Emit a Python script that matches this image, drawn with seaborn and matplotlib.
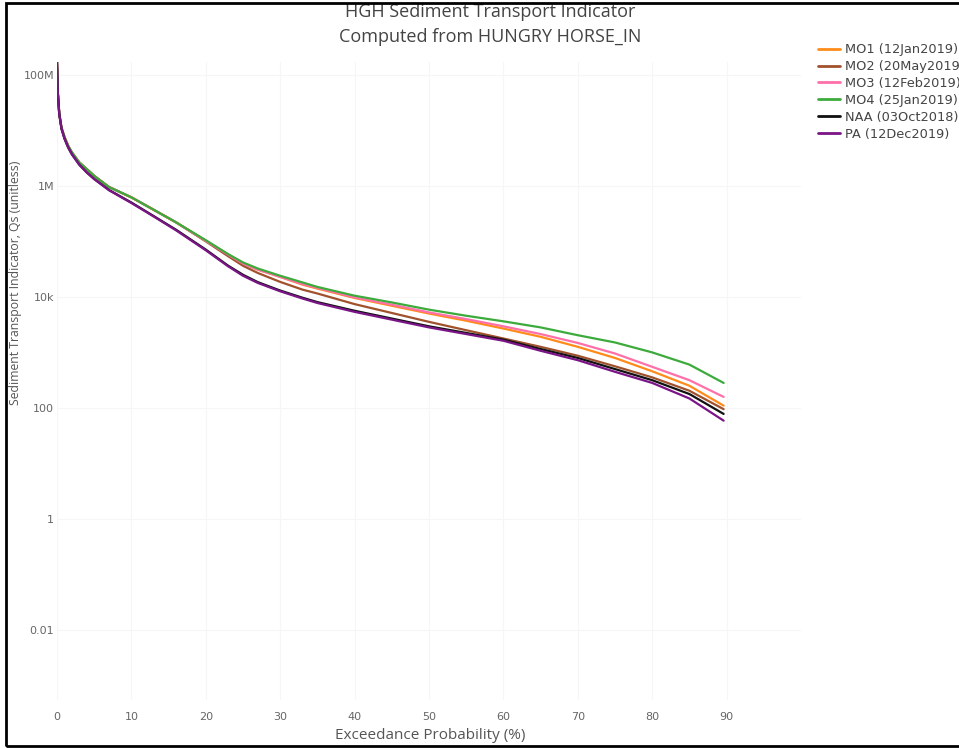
import pandas as pd
import seaborn as sns
import matplotlib.pyplot as plt
from matplotlib.patches import Rectangle
from matplotlib.lines import Line2D

# --- data (exceedance % vs Qs) ---
exceedance = [0, 0.1, 0.3, 0.6, 1, 1.5, 2, 3, 4, 5, 7, 10, 13, 16, 20, 23, 25, 27,
              30, 33, 35, 40, 45, 50, 55, 60, 65, 70, 75, 80, 85, 89.6]

mo1 = [1.7e8, 5.0e7, 2.0e7, 1.12e7, 7.6e6, 5.25e6, 4.0e6, 2.63e6, 2.0e6, 1.51e6,
       9.5e5, 6.2e5, 3.7e5, 2.2e5, 1.02e5, 5.75e4, 3.98e4, 3.09e4, 2.29e4, 1.66e4,
       1.41e4, 9550, 6920, 5010, 3720, 2690, 1910, 1260, 794, 457, 251, 110]
mo2 = [1.7e8, 5.0e7, 2.0e7, 1.12e7, 7.6e6, 5.25e6, 4.0e6, 2.63e6, 2.0e6, 1.51e6,
       9.5e5, 6.2e5, 3.7e5, 2.2e5, 1.0e5, 5.4e4, 3.63e4, 2.69e4, 1.86e4, 1.35e4,
       1.15e4, 7410, 5130, 3550, 2510, 1780, 1260, 871, 562, 355, 204, 95]
mo3 = [1.7e8, 5.0e7, 2.0e7, 1.12e7, 7.6e6, 5.25e6, 4.0e6, 2.63e6, 2.0e6, 1.51e6,
       9.5e5, 6.2e5, 3.7e5, 2.2e5, 1.02e5, 5.75e4, 3.98e4, 3.09e4, 2.29e4, 1.7e4,
       1.45e4, 9770, 7240, 5250, 3980, 2950, 2140, 1480, 955, 550, 316, 158]
mo4 = [1.7e8, 5.0e7, 2.0e7, 1.12e7, 7.6e6, 5.25e6, 4.0e6, 2.63e6, 2.0e6, 1.51e6,
       9.5e5, 6.2e5, 3.7e5, 2.2e5, 1.05e5, 5.9e4, 4.17e4, 3.24e4, 2.4e4, 1.82e4,
       1.51e4, 1.05e4, 7940, 5890, 4570, 3630, 2820, 2040, 1510, 1000, 603, 282]
naa = [1.7e8, 5.0e7, 2.0e7, 1.07e7, 7.1e6, 4.9e6, 3.7e6, 2.4e6, 1.74e6, 1.33e6,
       8.4e5, 5.0e5, 2.85e5, 1.62e5, 7.1e4, 3.65e4, 2.5e4, 1.84e4, 1.3e4, 9650,
       8050, 5620, 4070, 2950, 2240, 1700, 1150, 794, 501, 316, 178, 78]
pa = [1.7e8, 5.0e7, 2.0e7, 1.07e7, 7.1e6, 4.9e6, 3.7e6, 2.4e6, 1.74e6, 1.32e6,
      8.3e5, 4.9e5, 2.8e5, 1.58e5, 6.9e4, 3.55e4, 2.4e4, 1.78e4, 1.26e4, 9330,
      7760, 5370, 3890, 2820, 2140, 1620, 1070, 724, 447, 282, 148, 59]

series_names = ['MO1 (12Jan2019)', 'MO2 (20May2019)', 'MO3 (12Feb2019)',
                'MO4 (25Jan2019)', 'NAA (03Oct2018)', 'PA (12Dec2019)']
series_values = [mo1, mo2, mo3, mo4, naa, pa]
colors = ['#ff8c1a', '#a0522d', '#ff6fa8', '#3cab3c', '#111111', '#7a1487']

y_ticks = [1e-2, 1, 1e2, 1e4, 1e6, 1e8]
y_ticklabels = ['0.01', '1', '100', '10k', '1M', '100M']
x_ticks = [0, 10, 20, 30, 40, 50, 60, 70, 80, 90]

# long-form table for seaborn
frames = []
for name, vals in zip(series_names, series_values):
    frames.append(pd.DataFrame({'Exceedance': exceedance, 'Qs': vals, 'Alternative': name}))
df = pd.concat(frames, ignore_index=True)

sns.set_theme(style='white')
plt.rcParams['font.family'] = ['DejaVu Sans']

W, H = 959, 748
fig = plt.figure(figsize=(W / 100, H / 100), dpi=100)
left, right, top, bottom = 57, 801, 62, 700
ax = fig.add_axes([left / W, 1 - bottom / H, (right - left) / W, (bottom - top) / H])

sns.lineplot(data=df, x='Exceedance', y='Qs', hue='Alternative',
             hue_order=series_names, palette=dict(zip(series_names, colors)),
             linewidth=1.6, ax=ax, legend=False, sort=False)

ax.set_yscale('log')
ax.set_xlim(0, 100)
ax.set_ylim(10 ** -3.26, 10 ** 8.23)
ax.set_yticks(y_ticks)
ax.set_yticklabels(y_ticklabels)
ax.set_xticks(x_ticks)
ax.minorticks_off()
for s in ax.spines.values():
    s.set_visible(False)
ax.grid(True, color='#f6f6f6', linewidth=0.8)
ax.tick_params(axis='both', length=0, labelsize=8, labelcolor='#666666')
ax.tick_params(axis='y', pad=2)
ax.tick_params(axis='x', pad=9)

ax.set_xlabel('Exceedance Probability (%)', fontsize=11, color='#555555', family='Open Sans')
ax.xaxis.set_label_coords(430 / W, 1 - 728 / H, transform=fig.transFigure)
ax.set_ylabel('Sediment Transport Indicator, Qs (unitless)', fontsize=8.8,
              color='#555555', family='Open Sans')
ax.yaxis.set_label_coords(22 / W, 1 - 283 / H, transform=fig.transFigure)

fig.text(490 / W, 1 - 12 / H, 'HGH Sediment Transport Indicator', ha='center', va='center',
         fontsize=13, color='#444444', family='Open Sans')
fig.text(490 / W, 1 - 37 / H, 'Computed from HUNGRY HORSE_IN', ha='center', va='center',
         fontsize=13, color='#444444', family='Open Sans')

handles = [Line2D([], [], color=c, linewidth=2) for c in colors]
fig.legend(handles, series_names, loc='upper left',
           bbox_to_anchor=(813 / W, 1 - 38 / H), frameon=False,
           fontsize=9.3, labelcolor='#444444', handlelength=1.7,
           handletextpad=0.4, labelspacing=0.3, borderaxespad=0)

# black frame around the picture
fig.patches.append(Rectangle((6 / W, 2 / H), 1.0, 1 - 5 / H, transform=fig.transFigure,
                             fill=False, edgecolor='black', linewidth=2, zorder=10))

fig.savefig('out.png', dpi=100)
